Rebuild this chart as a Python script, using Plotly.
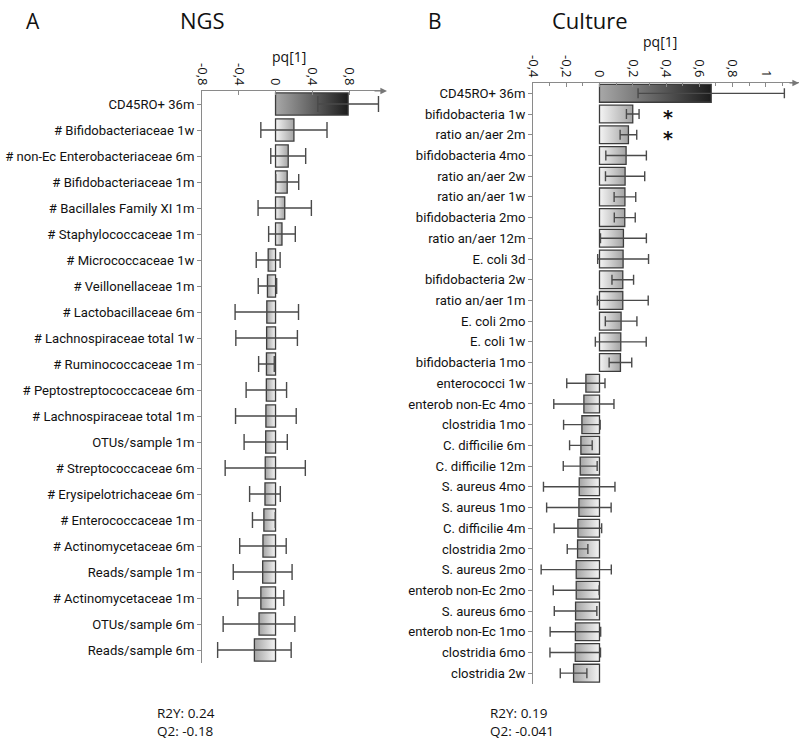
import base64
import plotly.graph_objects as go

# ---------------- data ----------------
ngs_labels = ["CD45RO+ 36m", "# Bifidobacteriaceae 1w", "# non-Ec Enterobacteriaceae 6m",
              "# Bifidobacteriaceae 1m", "# Bacillales Family XI 1m", "# Staphylococcaceae 1m",
              "# Micrococcaceae 1w", "# Veillonellaceae 1m", "# Lactobacillaceae 6m",
              "# Lachnospiraceae total 1w", "# Ruminococcaceae 1m", "# Peptostreptococcaceae 6m",
              "# Lachnospiraceae total 1m", "OTUs/sample 1m", "# Streptococcaceae 6m",
              "# Erysipelotrichaceae 6m", "# Enterococcaceae 1m", "# Actinomycetaceae 6m",
              "Reads/sample 1m", "# Actinomycetaceae 1m", "OTUs/sample 6m", "Reads/sample 6m"]
ngs_values = [0.79, 0.20, 0.138, 0.127, 0.10, 0.07, -0.08, -0.088, -0.095, -0.097, -0.099,
              -0.10, -0.105, -0.107, -0.112, -0.115, -0.127, -0.137, -0.14, -0.16, -0.18, -0.23]
ngs_errors = [0.33, 0.36, 0.19, 0.125, 0.29, 0.145, 0.13, 0.10, 0.345, 0.335, 0.085,
              0.22, 0.33, 0.235, 0.436, 0.167, 0.124, 0.253, 0.32, 0.25, 0.39, 0.40]

cult_labels = ["CD45RO+ 36m", "bifidobacteria 1w", "ratio an/aer 2m", "bifidobacteria 4mo",
               "ratio an/aer 2w", "ratio an/aer 1w", "bifidobacteria 2mo", "ratio an/aer 12m",
               "E. coli 3d", "bifidobacteria 2w", "ratio an/aer 1m", "E. coli 2mo", "E. coli 1w",
               "bifidobacteria 1mo", "enterococci 1w", "enterob non-Ec 4mo", "clostridia 1mo",
               "C. difficilie 6m", "C. difficilie 12m", "S. aureus 4mo", "S. aureus 1mo",
               "C. difficilie 4m", "clostridia 2mo", "S. aureus 2mo", "enterob non-Ec 2mo",
               "S. aureus 6mo", "enterob non-Ec 1mo", "clostridia 6mo", "clostridia 2w"]
cult_values = [0.672, 0.20, 0.174, 0.16, 0.154, 0.153, 0.152, 0.144, 0.142, 0.14, 0.14,
               0.130, 0.128, 0.126, -0.082, -0.094, -0.106, -0.112, -0.116, -0.122, -0.124,
               -0.13, -0.132, -0.14, -0.14, -0.144, -0.145, -0.146, -0.156]
cult_errors = [0.44, 0.038, 0.05, 0.122, 0.118, 0.065, 0.063, 0.138, 0.153, 0.065, 0.153,
               0.095, 0.153, 0.068, 0.115, 0.181, 0.11, 0.068, 0.102, 0.215, 0.194, 0.143,
               0.062, 0.211, 0.138, 0.128, 0.152, 0.152, 0.08]
cult_significant = ["bifidobacteria 1w", "ratio an/aer 2m"]

ngs_ticks = [-0.8, -0.4, 0, 0.4, 0.8]
ngs_ticktext = ["-0,8", "-0,4", "0", "0,4", "0,8"]
cult_ticks = [-0.4, -0.2, 0, 0.2, 0.4, 0.6, 0.8, 1.0]
cult_ticktext = ["-0,4", "-0,2", "0", "0,2", "0,4", "0,6", "0,8", "1"]

stats_ngs = ["R2Y: 0.24", "Q2: -0.18"]
stats_cult = ["R2Y: 0.19", "Q2: -0.041"]

# ---------------- helpers ----------------
FONT = "Open Sans"
LFONT = "Roboto"
LINE = "#8a8a8a"
EDGE = "#3c3c3c"


def grad_uri(c_left, c_right):
    svg = ('<svg xmlns="http://www.w3.org/2000/svg" width="100" height="10" viewBox="0 0 100 10" '
           'preserveAspectRatio="none"><defs><linearGradient id="g" x1="0" y1="0" x2="1" y2="0">'
           f'<stop offset="0" stop-color="{c_left}"/><stop offset="1" stop-color="{c_right}"/>'
           '</linearGradient></defs><rect width="100" height="10" fill="url(#g)"/></svg>')
    return "data:image/svg+xml;base64," + base64.b64encode(svg.encode()).decode()


def bar_images(values, xref, yref, barw):
    imgs = []
    for i, v in enumerate(values):
        if i == 0:
            light, dark = "#a8a8a8", "#1c1c1c"
        else:
            light, dark = "#f4f4f4", "#a4a4a4"
        src = grad_uri(light, dark) if v >= 0 else grad_uri(dark, light)
        imgs.append(dict(source=src, xref=xref, yref=yref, x=min(v, 0), y=i,
                         sizex=abs(v), sizey=barw, xanchor="left", yanchor="middle",
                         sizing="stretch", layer="below"))
    return imgs


fig = go.Figure()
BW_L = 0.86
BW_R = 0.86

fig.add_trace(go.Bar(
    x=ngs_values, y=list(range(len(ngs_values))), orientation="h", width=BW_L,
    marker=dict(color="rgba(0,0,0,0)", line=dict(color=EDGE, width=1.3)),
    error_x=dict(type="data", array=ngs_errors, color="#4a4a4a", thickness=1.4, width=8),
    xaxis="x", yaxis="y", showlegend=False, hoverinfo="skip"))

fig.add_trace(go.Bar(
    x=cult_values, y=list(range(len(cult_values))), orientation="h", width=BW_R,
    marker=dict(color="rgba(0,0,0,0)", line=dict(color=EDGE, width=1.3)),
    error_x=dict(type="data", array=cult_errors, color="#4a4a4a", thickness=1.4, width=5),
    xaxis="x2", yaxis="y2", showlegend=False, hoverinfo="skip"))

images = bar_images(ngs_values, "x", "y", BW_L) + bar_images(cult_values, "x2", "y2", BW_R)

LX = [202 / 800, 384 / 800]
LY = [1 - 663 / 740, 1 - 91 / 740]
RX = [533 / 800, 799 / 800]
RY = [1 - 683.5 / 740, 1 - 83 / 740]

xcommon = dict(side="top", showline=True, linecolor=LINE, linewidth=1, ticks="inside",
               ticklen=4, tickcolor=LINE, tickangle=90, showgrid=False, zeroline=False,
               automargin=False,
               tickfont=dict(family=FONT, size=13, color="#111"), fixedrange=True)
ycommon = dict(showline=True, linecolor=LINE, linewidth=1, ticks="outside", ticklen=4,
               tickcolor=LINE, showgrid=False, zeroline=False, automargin=False,
               fixedrange=True)

fig.update_layout(
    width=800, height=740, margin=dict(l=0, r=0, t=0, b=0, autoexpand=False),
    paper_bgcolor="white", plot_bgcolor="rgba(0,0,0,0)", barmode="overlay",
    xaxis=dict(domain=LX, anchor="y", range=[-0.8, 1.18], tickvals=ngs_ticks,
               ticktext=ngs_ticktext, **xcommon),
    yaxis=dict(domain=LY, anchor="x", range=[len(ngs_values) - 0.5, -0.5],
               tickvals=list(range(len(ngs_labels))), ticktext=ngs_labels,
               tickfont=dict(family=LFONT, size=13.1, color="#111"), **ycommon),
    xaxis2=dict(domain=RX, anchor="y2", range=[-0.4, 1.2], tickvals=cult_ticks,
                ticktext=cult_ticktext,
                minor=dict(dtick=0.1, tick0=0, ticks="inside", ticklen=3, tickcolor=LINE),
                **xcommon),
    yaxis2=dict(domain=RY, anchor="x2", range=[len(cult_values) - 0.5, -0.5],
                tickvals=list(range(len(cult_labels))), ticktext=cult_labels,
                tickfont=dict(family=LFONT, size=13.1, color="#111"), **ycommon),
    images=images,
    showlegend=False,
)

ann = []
# axis arrows
for xd, yd in ((LX, LY), (RX, RY)):
    ann.append(dict(xref="paper", yref="paper", x=xd[1] + 3 / 800, y=yd[1], ax=-14, ay=0,
                    text="", showarrow=True, arrowhead=2, arrowsize=1.1, arrowwidth=1.2,
                    arrowcolor="#777"))

tfont = dict(family=FONT, color="#111")
ann += [
    dict(xref="paper", yref="paper", x=33 / 800, y=1 - 21 / 740, text="A", showarrow=False,
         font=dict(size=21, **tfont), xanchor="center", yanchor="middle"),
    dict(xref="paper", yref="paper", x=202 / 800, y=1 - 20 / 740, text="NGS", showarrow=False,
         font=dict(size=22, **tfont), xanchor="center", yanchor="middle"),
    dict(xref="paper", yref="paper", x=435 / 800, y=1 - 21 / 740, text="B", showarrow=False,
         font=dict(size=21, **tfont), xanchor="center", yanchor="middle"),
    dict(xref="paper", yref="paper", x=590 / 800, y=1 - 20 / 740, text="Culture", showarrow=False,
         font=dict(size=22, **tfont), xanchor="center", yanchor="middle"),
    dict(xref="paper", yref="paper", x=289 / 800, y=1 - 56 / 740, text="pq[1]", showarrow=False,
         font=dict(size=14, **tfont), xanchor="center", yanchor="middle"),
    dict(xref="paper", yref="paper", x=660 / 800, y=1 - 42 / 740, text="pq[1]", showarrow=False,
         font=dict(size=14, **tfont), xanchor="center", yanchor="middle"),
    dict(xref="paper", yref="paper", x=155 / 800, y=1 - 722 / 740,
         text="<br>".join(stats_ngs), showarrow=False, align="left",
         font=dict(size=13.5, **tfont), xanchor="left", yanchor="middle"),
    dict(xref="paper", yref="paper", x=488 / 800, y=1 - 722 / 740,
         text="<br>".join(stats_cult), showarrow=False, align="left",
         font=dict(size=13.5, **tfont), xanchor="left", yanchor="middle"),
]
for name in cult_significant:
    ann.append(dict(xref="x2", yref="y2", x=0.415, y=cult_labels.index(name) + 0.15, text="<b>*</b>",
                    showarrow=False, font=dict(size=19, family="DejaVu Sans", color="#111"),
                    xanchor="center", yanchor="middle"))
fig.update_layout(annotations=ann)

fig.write_html("out.html", config={"displayModeBar": False},
               post_script="document.body.style.margin='0px';")
